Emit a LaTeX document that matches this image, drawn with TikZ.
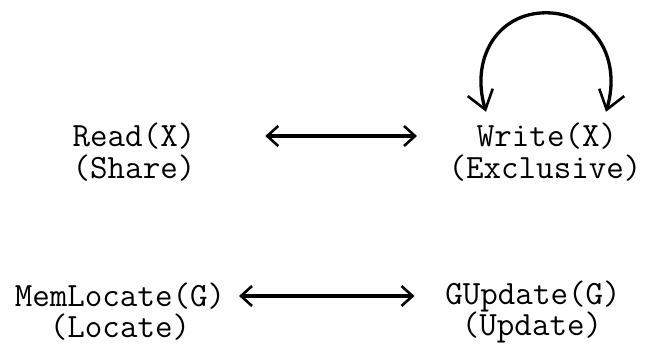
\documentclass[tikz,border=0pt]{standalone}
\usepackage{fontspec}
\usetikzlibrary{arrows.meta}
\tikzset{
  lbl/.style={font=\ttfamily\fontsize{34}{36}\selectfont, inner sep=0pt, outer sep=0pt, text=black},
  link/.style={line width=3.3pt, {Straight Barb[length=11pt,width=20pt,line width=2.6pt]}-{Straight Barb[length=11pt,width=20pt,line width=2.6pt]}},
  loop/.style={line width=3.3pt, {Straight Barb[length=18pt,width=26pt,line width=2.6pt]}-{Straight Barb[length=18pt,width=26pt,line width=2.6pt]}}
}
\begin{document}
\begin{tikzpicture}[x=1pt,y=1pt]
\useasboundingbox[fill=white] (0,0) rectangle (664,348);
% states of a data item
\node[lbl] (read)  at (134,212) {Read(X)};
\node[lbl] (share) at (134,180) {(Share)};
\node[lbl] (write) at (547,212) {Write(X)};
\node[lbl] (excl)  at (545,180) {(Exclusive)};
% states of a global object
\node[lbl] (memloc) at (120,52) {MemLocate(G)};
\node[lbl] (locate) at (120,21) {(Locate)};
\node[lbl] (gupd)   at (533,52) {GUpdate(G)};
\node[lbl] (upd)    at (532,21) {(Update)};
% transitions
\draw[link, shorten <=70pt, shorten >=60pt] (read) -- (write);
\draw[link, shorten <=14pt, shorten >=31pt] (memloc) -- (gupd);
% write to write self transition
\coordinate (loopl) at ([xshift=-61pt,yshift=11pt]write.north);
\coordinate (loopr) at ([xshift=59pt,yshift=11pt]write.north);
\coordinate (looptop) at ([xshift=-1pt,yshift=110pt]write.north);
\draw[loop] (loopl) .. controls ++(-16,54) and ++(-48,0) .. (looptop)
                    .. controls ++(48,0) and ++(16,54) .. (loopr);
\end{tikzpicture}
\end{document}
